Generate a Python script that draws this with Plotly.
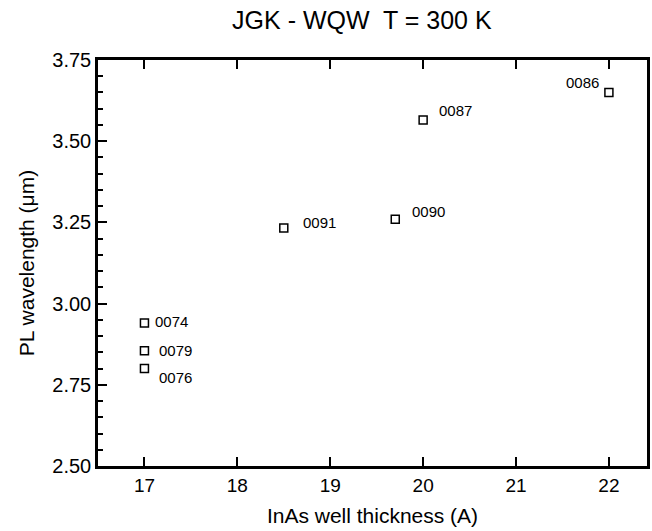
import plotly.graph_objects as go

# Data
samples = ["0074", "0079", "0076", "0091", "0090", "0087", "0086"]
thickness = [17.0, 17.0, 17.0, 18.5, 19.7, 20.0, 22.0]
wavelength = [2.94, 2.855, 2.80, 3.233, 3.26, 3.565, 3.65]

# label placement offsets (pixels) relative to marker
label_dx = [9, 13, 13, 17, 15, 14, -8]
label_dy = [2, 0, -9, 5, 8, 10, 10]
label_anchor = ["left", "left", "left", "left", "left", "left", "right"]

FONT = "Liberation Sans, Arial, Helvetica, sans-serif"

fig = go.Figure()
fig.add_trace(go.Scatter(
    x=thickness, y=wavelength, mode="markers",
    marker=dict(symbol="square-open", size=8, color="black", line=dict(width=1.5, color="black")),
    showlegend=False,
))

for s, xv, yv, dx, dy, anc in zip(samples, thickness, wavelength, label_dx, label_dy, label_anchor):
    fig.add_annotation(x=xv, y=yv, text=s, showarrow=False, xanchor=anc, yanchor="middle",
                       xshift=dx, yshift=dy, font=dict(family=FONT, size=15, color="black"))

fig.update_xaxes(
    range=[16.5, 22.41], dtick=1, tick0=17,
    showline=True, linecolor="black", linewidth=2.5, mirror="allticks",
    ticks="inside", ticklen=9, tickwidth=2, tickcolor="black",
    showgrid=False, zeroline=False,
    tickfont=dict(family=FONT, size=19, color="black"),
    title=dict(text="InAs well thickness (A)", font=dict(family=FONT, size=21, color="black"), standoff=14),
)
fig.update_yaxes(
    range=[2.5, 3.75], dtick=0.25, tick0=2.5, tickformat=".2f",
    showline=True, linecolor="black", linewidth=2.5, mirror=True,
    ticks="inside", ticklen=9, tickwidth=2, tickcolor="black",
    showgrid=False, zeroline=False,
    tickfont=dict(family=FONT, size=20, color="black"),
    minor=dict(dtick=0.05, ticks="inside", ticklen=5, tickwidth=2, tickcolor="black"),
    title=dict(text="PL wavelength (μm)", font=dict(family=FONT, size=21, color="black"), standoff=12),
)

fig.update_layout(
    width=652, height=531,
    margin=dict(l=98, r=2, t=60, b=65),
    paper_bgcolor="white", plot_bgcolor="white",
    title=dict(text="JGK - WQW  T = 300 K", x=0.555, xanchor="center", y=0.962, yanchor="middle",
               font=dict(family=FONT, size=25, color="black")),
)

fig.write_html("out.html")
